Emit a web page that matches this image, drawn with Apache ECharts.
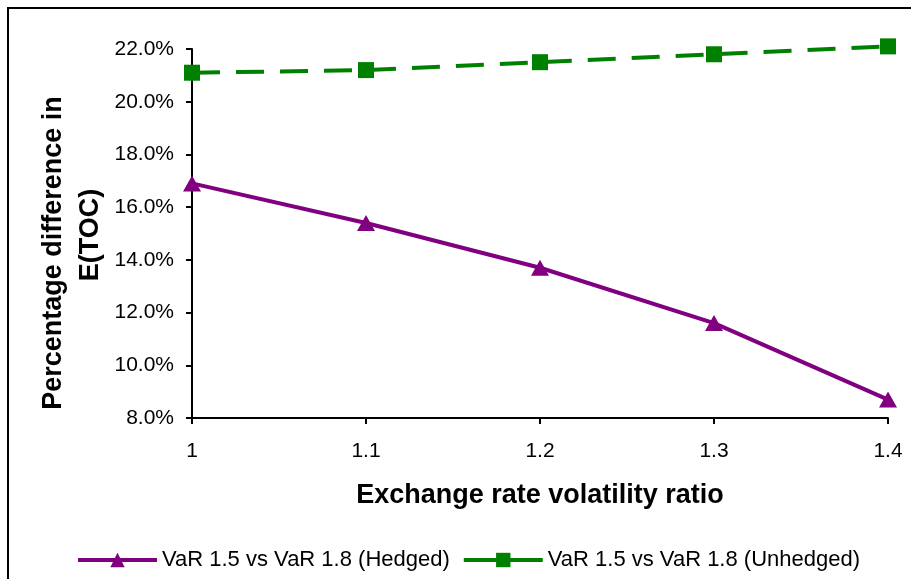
<!DOCTYPE html>
<html>
<head>
<meta charset="utf-8">
<script src="https://cdn.jsdelivr.net/npm/echarts@6/dist/echarts.min.js"></script>
<style>
  html, body { margin: 0; padding: 0; background: #fff; }
  #chart { width: 911px; height: 579px; }
</style>
</head>
<body>
<div id="chart"></div>
<script>
// Exchange rate volatility ratios (x axis)
var ratios = ['1', '1.1', '1.2', '1.3', '1.4'];
// Percentage difference in E(TOC), VaR 1.5 vs VaR 1.8
var hedged = [16.9, 15.4, 13.7, 11.6, 8.7];
var unhedged = [21.1, 21.2, 21.5, 21.8, 22.1];
var seriesNames = ['VaR 1.5 vs VaR 1.8 (Hedged)', 'VaR 1.5 vs VaR 1.8 (Unhedged)'];
var xTitle = 'Exchange rate volatility ratio';
var yTitleLines = ['Percentage difference in', 'E(TOC)'];

var chart = echarts.init(document.getElementById('chart'));
var font = 'Liberation Sans, Arial, sans-serif';

chart.setOption({
  animation: false,
  backgroundColor: '#ffffff',
  grid: { left: 192, right: 23, top: 49, bottom: 161 },
  xAxis: {
    type: 'category',
    data: ratios,
    boundaryGap: false,
    axisLine: { lineStyle: { color: '#000', width: 2 } },
    axisTick: { show: true, inside: false, length: 6, alignWithLabel: true, lineStyle: { color: '#000', width: 2 } },
    axisLabel: { color: '#000', fontSize: 21, fontFamily: font, margin: 23 },
    splitLine: { show: false },
    name: xTitle,
    nameLocation: 'middle',
    nameGap: 64,
    nameTextStyle: { color: '#000', fontSize: 27, fontWeight: 'bold', fontFamily: font }
  },
  yAxis: {
    type: 'value',
    min: 8,
    max: 22,
    interval: 2,
    axisLine: { show: true, lineStyle: { color: '#000', width: 2 } },
    axisTick: { show: true, inside: false, length: 6, lineStyle: { color: '#000', width: 2 } },
    axisLabel: {
      color: '#000', fontSize: 21, fontFamily: font, margin: 18,
      formatter: function (v) { return v.toFixed(1) + '%'; }
    },
    splitLine: { show: false }
  },
  legend: {
    left: 71,
    bottom: 3,
    itemWidth: 79,
    itemHeight: 18,
    itemGap: 12,
    textStyle: { color: '#000', fontSize: 22, fontFamily: font },
    lineStyle: { type: 'solid', width: 4 },
    data: seriesNames
  },
  series: [
    {
      name: seriesNames[0],
      type: 'line',
      data: hedged,
      clip: false,
      symbol: 'triangle',
      symbolSize: [18, 16],
      lineStyle: { color: '#800080', width: 4 },
      itemStyle: { color: '#800080' }
    },
    {
      name: seriesNames[1],
      type: 'line',
      data: unhedged,
      clip: false,
      symbol: 'rect',
      symbolSize: 16,
      lineStyle: { color: '#008000', width: 4, type: [28, 16] },
      itemStyle: { color: '#008000' }
    }
  ],
  graphic: [
    {
      type: 'rect',
      silent: true,
      shape: { x: 8, y: 8, width: 1200, height: 1200 },
      style: { fill: null, stroke: '#000', lineWidth: 2 }
    },
    {
      type: 'text',
      x: 54, y: 253,
      rotation: Math.PI / 2,
      style: {
        text: yTitleLines[0], fill: '#000', fontSize: 27, fontWeight: 'bold', fontFamily: font,
        align: 'center', verticalAlign: 'middle'
      }
    },
    {
      type: 'text',
      x: 91, y: 235,
      rotation: Math.PI / 2,
      style: {
        text: yTitleLines[1], fill: '#000', fontSize: 27, fontWeight: 'bold', fontFamily: font,
        align: 'center', verticalAlign: 'middle'
      }
    }
  ]
});
</script>
</body>
</html>
